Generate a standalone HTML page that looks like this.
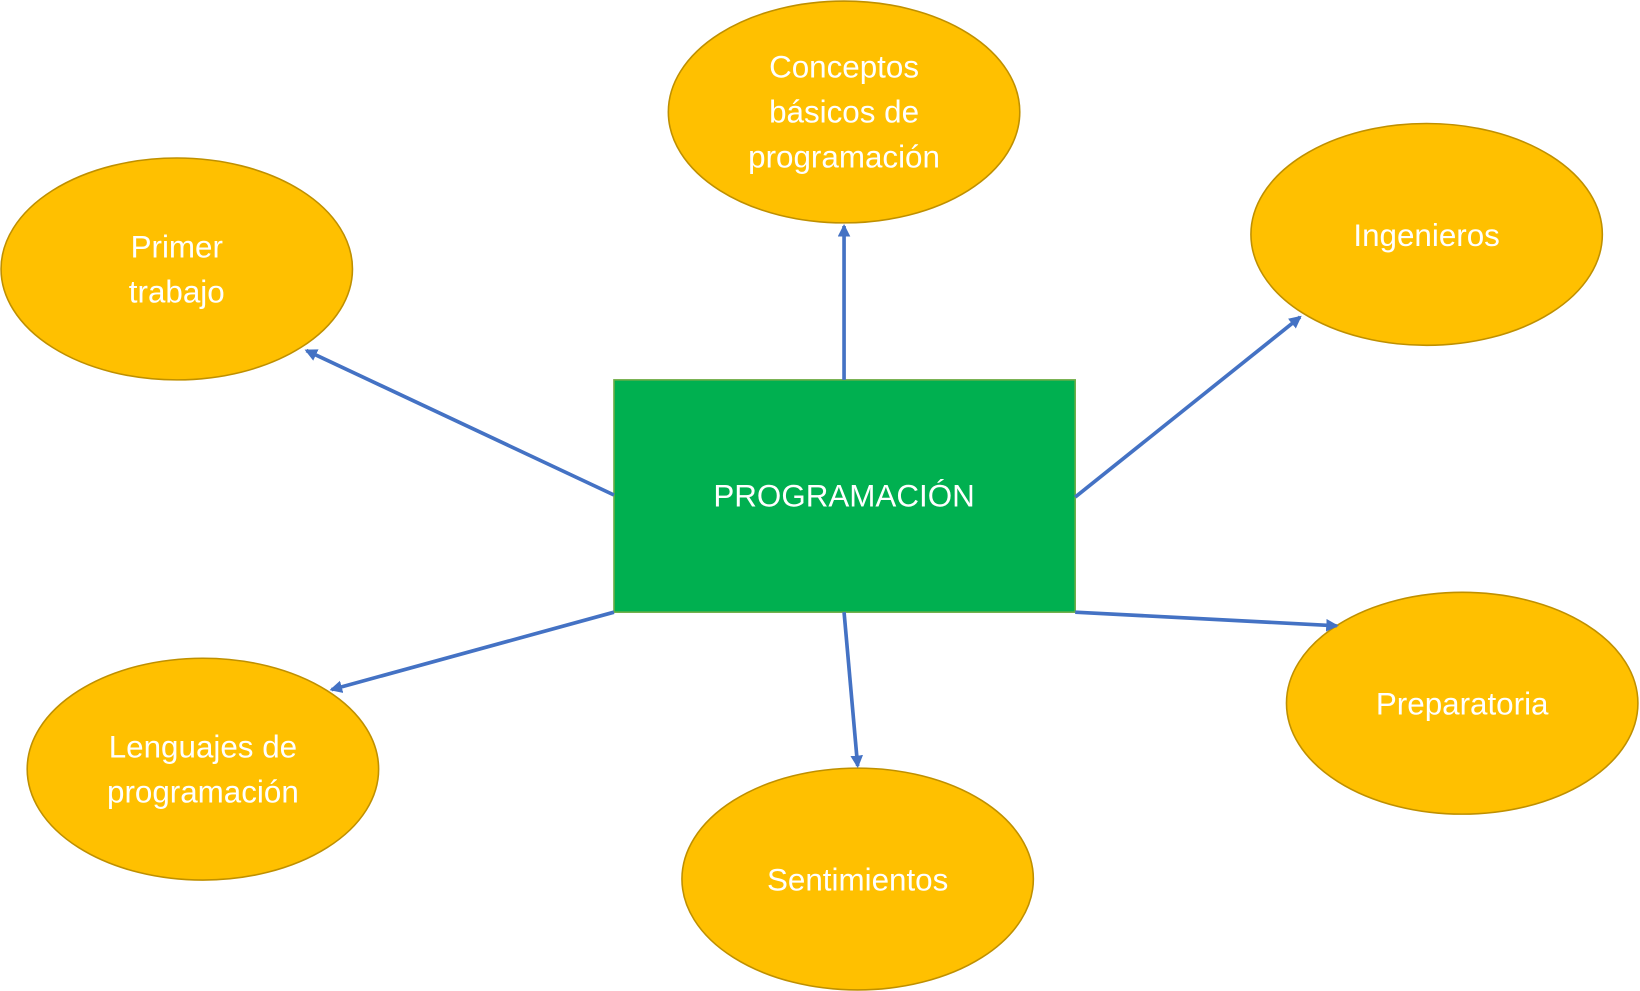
<!DOCTYPE html>
<html><head><meta charset="utf-8"><style>html,body{margin:0;padding:0;background:#fff}svg{display:block}</style></head>
<body>
<svg width="1640" height="991" viewBox="0 0 1568 947" preserveAspectRatio="none" xmlns="http://www.w3.org/2000/svg">
<defs><marker id="a" markerWidth="14" markerHeight="14" refX="10" refY="6" orient="auto" markerUnits="userSpaceOnUse"><path d="M0,0 L12,6 L0,12 z" fill="#4472C4"/></marker></defs>
<g fill="#FFC000" stroke="#BF9000" stroke-width="1.5">
<ellipse cx="807" cy="107" rx="168" ry="106"/>
<ellipse cx="169" cy="257" rx="168" ry="106"/>
<ellipse cx="1364" cy="224" rx="168" ry="106"/>
<ellipse cx="194" cy="735" rx="168" ry="106"/>
<ellipse cx="820" cy="840" rx="168" ry="106"/>
<ellipse cx="1398" cy="672" rx="168" ry="106"/>
</g>
<rect x="587" y="363" width="441" height="222" fill="#00B050" stroke="#70AD47" stroke-width="1.5"/>
<g stroke="#4472C4" stroke-width="3.5" marker-end="url(#a)">
<line x1="807" y1="363" x2="807" y2="216"/>
<line x1="587" y1="473" x2="293" y2="335"/>
<line x1="1028" y1="475" x2="1243" y2="303"/>
<line x1="587" y1="585" x2="317" y2="659"/>
<line x1="807" y1="585" x2="820" y2="732"/>
<line x1="1028" y1="585" x2="1278" y2="598"/>
</g>
<g fill="#fff" font-family="Liberation Sans, sans-serif" font-size="30" text-anchor="middle">
<text x="807" y="74">Conceptos</text><text x="807" y="117">básicos de</text><text x="807" y="160">programación</text>
<text x="169" y="246">Primer</text><text x="169" y="289">trabajo</text>
<text x="1364" y="235">Ingenieros</text>
<text x="194" y="724">Lenguajes de</text><text x="194" y="767">programación</text>
<text x="820" y="851">Sentimientos</text>
<text x="1398" y="683">Preparatoria</text>
<text x="807" y="484">PROGRAMACIÓN</text>
</g>
</svg>
</body></html>
